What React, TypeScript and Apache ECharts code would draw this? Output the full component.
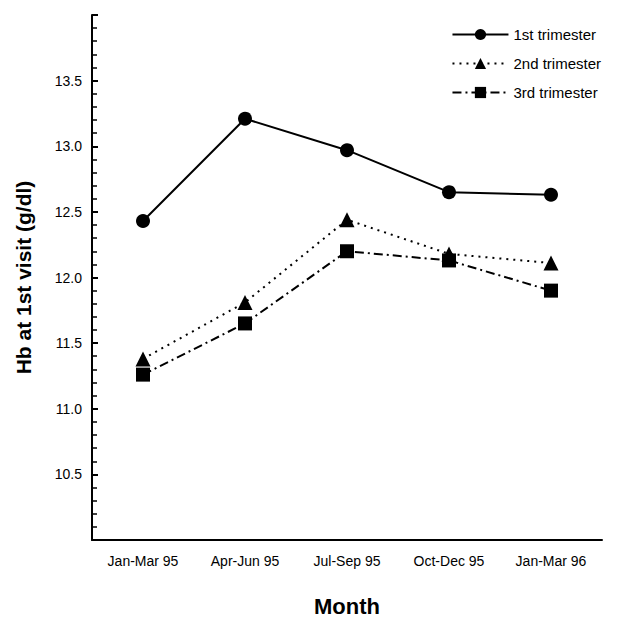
import React, { useEffect, useRef } from "react";
import * as echarts from "echarts";

const categories = ["Jan-Mar 95", "Apr-Jun 95", "Jul-Sep 95", "Oct-Dec 95", "Jan-Mar 96"];
const first = [12.43, 13.21, 12.97, 12.65, 12.63];
const second = [11.38, 11.81, 12.44, 12.18, 12.11];
const third = [11.26, 11.65, 12.2, 12.13, 11.9];

export default function App() {
  const ref = useRef<HTMLDivElement>(null);
  useEffect(() => {
    const chart = echarts.init(ref.current!, null, { renderer: "svg" });
    const font = "Liberation Sans, Arial, sans-serif";
    const mk = (name: string, data: number[], symbol: string, type: any) => ({
      name, type: "line", data, symbol, symbolSize: symbol === "triangle" ? 15 : 14,
      itemStyle: { color: "#000" },
      lineStyle: { color: "#000", width: 2, type },
    });
    chart.setOption({
      animation: false,
      textStyle: { fontFamily: font },
      grid: { left: 92, right: 16, top: 15, bottom: 79 },
      legend: {
        right: 12, top: 22, orient: "vertical", itemWidth: 56, itemHeight: 14, itemGap: 14,
        textStyle: { fontSize: 15, color: "#000", fontFamily: font },
        data: ["1st trimester", "2nd trimester", "3rd trimester"],
      },
      xAxis: {
        type: "category", data: categories, boundaryGap: true,
        name: "Month", nameLocation: "middle", nameGap: 55,
        nameTextStyle: { fontSize: 22, fontWeight: "bold", color: "#000" },
        axisLine: { lineStyle: { color: "#000", width: 2 } },
        axisTick: { alignWithLabel: true, length: 5, inside: true, lineStyle: { color: "#000", width: 2 } },
        axisLabel: { color: "#000", fontSize: 14, margin: 14 },
      },
      yAxis: {
        type: "value", min: 10, max: 14, interval: 0.5,
        name: "Hb at 1st visit (g/dl)", nameLocation: "middle", nameGap: 58,
        nameTextStyle: { fontSize: 21, fontWeight: "bold", color: "#000" },
        axisLine: { show: true, lineStyle: { color: "#000", width: 2 } },
        axisTick: { show: true, length: 6, inside: true, lineStyle: { color: "#000", width: 2 } },
        minorTick: { show: true, splitNumber: 5, length: 5, lineStyle: { color: "#000", width: 1.5 } },
        splitLine: { show: false },
        axisLabel: {
          color: "#000", fontSize: 14, margin: 10,
          formatter: (v: number) => (v <= 10.01 || v >= 13.99 ? "" : v.toFixed(1)),
        },
      },
      series: [
        mk("1st trimester", first, "circle", "solid"),
        mk("2nd trimester", second, "triangle", [2, 5]),
        mk("3rd trimester", third, "rect", [9, 4, 2, 4]),
      ],
    });
    return () => chart.dispose();
  }, []);
  return <div ref={ref} style={{ position: "fixed", left: 0, top: 0, width: 618, height: 622, background: "#fff" }} />;
}
